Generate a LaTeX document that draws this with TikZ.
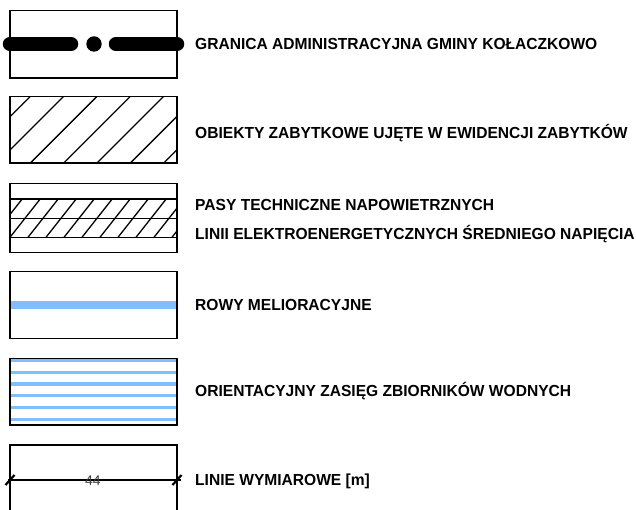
\documentclass[tikz,border=0pt]{standalone}
\usepackage{fontspec}
\setmainfont{Liberation Sans}
\definecolor{water}{RGB}{128,190,255}
\definecolor{dimgray}{RGB}{60,60,60}
\newcommand{\legtxt}[1]{\scalebox{0.973}[1]{#1}}
\tikzset{
  legbox/.style={draw=black,line width=1.5pt},
  legtext/.style={anchor=base west,inner sep=0pt,font=\fontsize{16}{18}\selectfont\bfseries},
  hatch/.style={line width=1.3pt},
}
\begin{document}
\begin{tikzpicture}[x=1pt,y=-1pt]
\useasboundingbox (0,0) rectangle (636,510);
% 1 boundary
\draw[legbox] (10,10.7) rectangle (177,78);
\draw[line width=14.5pt,line cap=round] (10,44) -- (71,44);
\fill (94,44) circle (7.7pt);
\draw[line width=14.5pt,line cap=round] (116,44) -- (177,44);
\node[legtext] (t1) at (195,49.7) {\legtxt{GRANICA ADMINISTRACYJNA GMINY KOŁACZKOWO}};
% 2 monuments
\begin{scope}
\clip (10,96.7) rectangle (177,163);
\foreach \k in {0,...,6}
  \draw[hatch] ({126.7+33.33*\k-170},170) -- ({126.7+33.33*\k-90},90);
\end{scope}
\draw[legbox] (10,96.7) rectangle (177,163);
\node[legtext] (t2) at (195,138.7) {\legtxt{OBIEKTY ZABYTKOWE UJĘTE W EWIDENCJI ZABYTKÓW}};
% 3 power lines
\begin{scope}
\clip (10,199) rectangle (177,237.3);
\foreach \k in {-3,...,10}
  \draw[hatch] ({10+18*\k},237.3) -- ({10+18*\k+30.2},199);
\end{scope}
\draw[line width=1.3pt] (10,199) -- (177,199);
\draw[line width=1.3pt] (10,218.3) -- (177,218.3);
\draw[line width=1.3pt] (10,237.3) -- (177,237.3);
\draw[legbox] (10,183.3) rectangle (177,252.3);
\node[legtext] (t3a) at (195,210.7) {\legtxt{PASY TECHNICZNE NAPOWIETRZNYCH}};
\node[legtext] (t3b) at (195,239.7) {\legtxt{LINII ELEKTROENERGETYCZNYCH ŚREDNIEGO NAPIĘCIA}};
% 4 ditches
\draw[water,line width=8pt] (10,305) -- (177,305);
\draw[legbox] (10,271.7) rectangle (177,338.3);
\node[legtext] (t4) at (195,310.7) {\legtxt{ROWY MELIORACYJNE}};
% 5 water bodies
\foreach \yy in {360.7,372.4,384.1,395.8,407.5,419.2}
  \draw[water,line width=3.3pt] (10,\yy) -- (178,\yy);
\draw[legbox] (10,358.3) rectangle (177,425);
\node[legtext] (t5) at (195,396.7) {\legtxt{ORIENTACYJNY ZASIĘG ZBIORNIKÓW WODNYCH}};
% 6 dimension
\draw[legbox] (10,445) rectangle (177,520);
\coordinate (d1) at (8,480);
\coordinate (d2) at (181,480);
\draw[line width=1.3pt] (d1) -- (d2);
\draw[line width=2.2pt] (5.5,485) -- (14.5,475);
\draw[line width=2.2pt] (172.5,485) -- (181.5,475);
\node[inner sep=0pt,text=dimgray,font=\fontsize{14}{15}\selectfont] (dim) at (93,480.5) {44};
\node[legtext] (t6) at (195,485.7) {\legtxt{LINIE WYMIAROWE [m]}};
\end{tikzpicture}
\end{document}
